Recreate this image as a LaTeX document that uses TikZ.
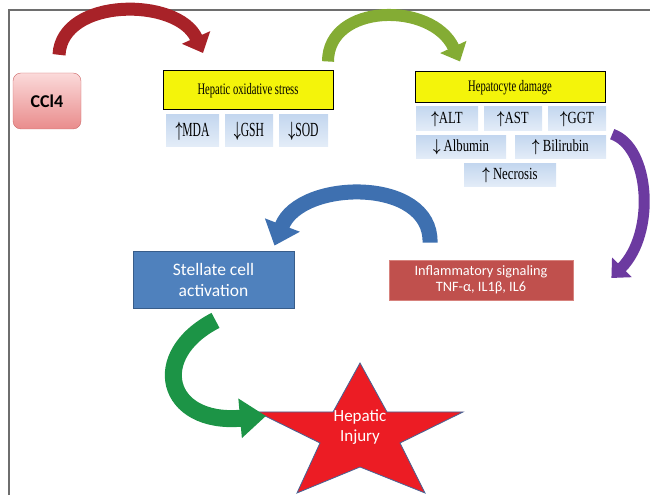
\documentclass[tikz,border=0pt]{standalone}
\usepackage{amsmath}
\usepackage{fontspec}
\usepackage{graphicx}
\setmainfont{Liberation Serif}
\newfontfamily\calib{Carlito}
\usetikzlibrary{arrows.meta}
\definecolor{hyellow}{RGB}{244,244,10}
\definecolor{pinktop}{RGB}{251,218,218}
\definecolor{pinkbot}{RGB}{233,140,140}
\definecolor{pinkline}{RGB}{205,105,105}
\definecolor{marktop}{RGB}{196,215,239}
\definecolor{markbot}{RGB}{228,237,248}
\definecolor{cellblue}{RGB}{79,129,189}
\definecolor{cellline}{RGB}{56,93,138}
\definecolor{inflred}{RGB}{192,80,77}
\definecolor{inflline}{RGB}{215,130,125}
\definecolor{starred}{RGB}{236,28,36}
\definecolor{starline}{RGB}{70,100,150}
\definecolor{arrred}{RGB}{168,34,40}
\definecolor{arrgreen}{RGB}{132,172,52}
\definecolor{arrpurple}{RGB}{108,58,160}
\definecolor{arrblue}{RGB}{62,112,176}
\definecolor{arrdkgreen}{RGB}{28,148,70}
\definecolor{framegray}{RGB}{110,110,110}
\newcommand{\sq}[2][0.66]{\scalebox{#1}[1]{#2}}
\newcommand{\up}{$\boldsymbol{\uparrow}$}
\newcommand{\dn}{$\boldsymbol{\downarrow}$}
\tikzset{startbox/.style = {draw = pinkline, top color = pinktop, bottom color = pinkbot, rounded corners = 8pt, minimum width = 68, minimum height = 56, font = \calib\bfseries\fontsize{18}{20}\selectfont}}
\tikzset{headbox/.style = {draw, fill = hyellow, line width = 1pt, inner sep = 0pt, font = \fontsize{16}{18}\selectfont}}
\tikzset{markbox/.style = {top color = marktop, bottom color = markbot, inner sep = 0pt, font = \fontsize{17}{19}\selectfont}}
\tikzset{effectbox/.style = {draw, line width = 0.8pt, text = white, align = center, inner sep = 0pt, font = \calib}}
\tikzset{fatarrow/.style = {line width = #1, line cap = butt}}

\begin{document}
\begin{tikzpicture}[x=1pt, y=1pt]
\useasboundingbox (0,0) rectangle (650,495);
\draw[framegray, line width = 1.5pt] (9,0) -- (9,485) -- (650,485);

\node[startbox] (ccl) at (47,394) {CCl4};

\node[headbox, minimum width = 170, minimum height = 39] (ox) at (248,404.5) {\sq{Hepatic oxidative stress}};
\node[markbox, minimum width = 53, minimum height = 32, font = \fontsize{20}{22}\selectfont] (mda) at (192.5,364) {\sq[0.58]{\up MDA}};
\node[markbox, minimum width = 48, minimum height = 32, font = \fontsize{20}{22}\selectfont] (gsh) at (249,364) {\sq[0.58]{\dn GSH}};
\node[markbox, minimum width = 49, minimum height = 32, font = \fontsize{20}{22}\selectfont] (sod) at (303.5,364) {\sq[0.58]{\dn SOD}};

\node[headbox, minimum width = 190, minimum height = 31] (hd) at (510,407.5) {\sq{Hepatocyte damage}};
\node[markbox, minimum width = 62, minimum height = 24] (alt) at (447,376) {\sq[0.75]{\up ALT}};
\node[markbox, minimum width = 58, minimum height = 24] (ast) at (513,376) {\sq[0.75]{\up AST}};
\node[markbox, minimum width = 58, minimum height = 24] (ggt) at (577,376) {\sq[0.75]{\up GGT}};
\node[markbox, minimum width = 90, minimum height = 23] (alb) at (461,347.5) {\sq[0.75]{\dn\ Albumin}};
\node[markbox, minimum width = 91, minimum height = 23] (bil) at (560.5,347.5) {\sq[0.75]{\up\ Bilirubin}};
\node[markbox, minimum width = 92, minimum height = 23] (nec) at (510,319.5) {\sq[0.75]{\up\ Necrosis}};

\node[effectbox, draw = inflline, fill = inflred, minimum width = 184, minimum height = 40, font = \calib\fontsize{14.3}{16.5}\selectfont] (infl) at (481,215) {Inflammatory signaling\\TNF-α, IL1β, IL6};
\node[effectbox, draw = cellline, fill = cellblue, minimum width = 161, minimum height = 57, font = \calib\fontsize{17.5}{21}\selectfont] (stel) at (213.5,215.5) {Stellate cell\\activation};

% star
\filldraw[fill = starred, draw = starline, line width = 0.8pt]
  (360,132) -- (387,83) -- (463,83) -- (400,52) -- (425,2) -- (360,28)
  -- (297,2) -- (320,52) -- (257,83) -- (333,83) -- cycle;
\node[text = white, align = center, font = \calib\fontsize{17}{20}\selectfont] (inj) at (360,68) {Hepatic\\Injury};

% arrow ends
\coordinate (r0) at ([xshift=12pt, yshift=18pt]ccl.north);
\coordinate (r1) at (203,442);
\coordinate (g0) at ([xshift=80pt, yshift=9pt]ox.north);
\coordinate (g1) at ([xshift=-50pt, yshift=10pt]hd.north);
\coordinate (p0) at ([xshift=6pt, yshift=-3pt]ggt.south east);
\coordinate (p1) at ([xshift=38pt, yshift=2pt]infl.east);
\coordinate (b0) at ([xshift=-51pt, yshift=17pt]infl.north);
\coordinate (b1) at ([xshift=61pt, yshift=5pt]stel.north);
\coordinate (s0) at ([xshift=2pt, yshift=-12pt]stel.south);
\coordinate (s1) at (266,79);

\draw[fatarrow = 13pt, arrred, -{Triangle[width = 30pt, length = 17pt]}] (r0) .. controls (62,498) and (178,498) .. (r1);
\draw[fatarrow = 12pt, arrgreen, -{Triangle[width = 28pt, length = 16pt]}] (g0) .. controls (328,492) and (432,494) .. (g1);
\draw[fatarrow = 11pt, arrpurple, -{Triangle[width = 27pt, length = 15pt]}] (p0) .. controls (650,348) and (656,262) .. (p1);
\draw[fatarrow = 15pt, arrblue, -{Triangle[width = 36pt, length = 22pt]}] (b0) .. controls (432,318) and (300,316) .. (b1);
\draw[fatarrow = 17pt, arrdkgreen, -{Triangle[width = 38pt, length = 26pt]}] (s0) .. controls (148,140) and (165,70) .. (s1);
\end{tikzpicture}
\end{document}
